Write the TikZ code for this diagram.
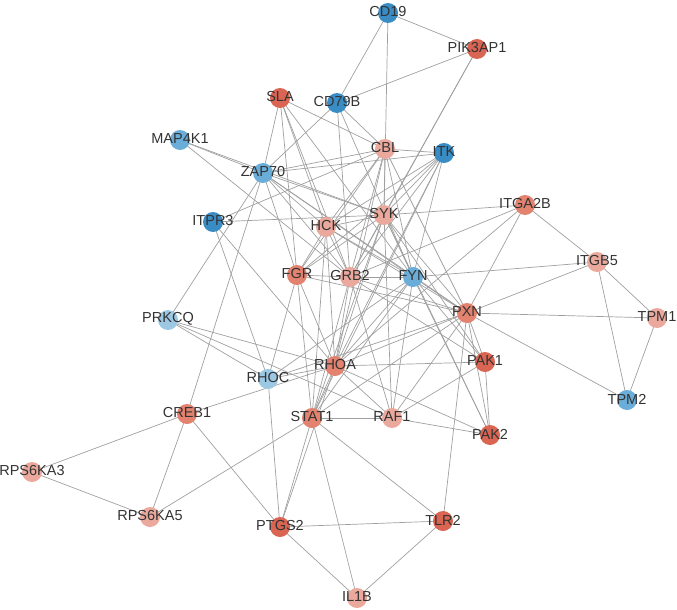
\documentclass[tikz,border=0pt]{standalone}
\usepackage{fontspec}
\setmainfont{Liberation Sans}
\usepackage{tikz}
\usetikzlibrary{backgrounds}
\definecolor{geneBlueA}{HTML}{3A8CC4}
\definecolor{geneBlueB}{HTML}{6AADD8}
\definecolor{geneBlueC}{HTML}{9DC8E4}
\definecolor{geneRedA}{HTML}{DB6553}
\definecolor{geneRedB}{HTML}{E2826F}
\definecolor{geneRedC}{HTML}{EBA99D}
\definecolor{linkGray}{HTML}{A0A0A0}
\definecolor{textGray}{HTML}{333333}

\begin{document}
\begin{tikzpicture}[x=1pt,y=-1pt,
  gene/.style={circle,inner sep=0pt,minimum size=20pt},
  geneText/.style={inner sep=0pt,text=textGray,font=\fontsize{14.5}{15}\selectfont},
  link/.style={draw=linkGray,line width=0.7pt}]
\useasboundingbox (0,0) rectangle (677,610);

\def\genes{
CD19/388/13/geneBlueA,
PIK3AP1/477/49/geneRedA,
SLA/280/98/geneRedA,
CD79B/337/103/geneBlueA,
MAP4K1/180/140/geneBlueB,
CBL/385/149/geneRedC,
ITK/444/153/geneBlueA,
ZAP70/263/173/geneBlueB,
ITPR3/213/222/geneBlueA,
SYK/384/215/geneRedC,
HCK/326/227/geneRedC,
ITGA2B/525/205/geneRedB,
ITGB5/597/262/geneRedC,
FGR/297/275/geneRedB,
GRB2/350/277/geneRedC,
FYN/413/277/geneBlueB,
PXN/467/313/geneRedB,
TPM1/657/318/geneRedC,
PRKCQ/168/320/geneBlueC,
RHOA/335/366/geneRedB,
PAK1/485/362/geneRedA,
RHOC/268/379/geneBlueC,
TPM2/627/400/geneBlueB,
CREB1/187/414/geneRedB,
STAT1/312/418/geneRedB,
RAF1/392/418/geneRedC,
PAK2/490/435/geneRedA,
RPS6KA3/32/472/geneRedC,
RPS6KA5/150/517/geneRedC,
PTGS2/280/527/geneRedA,
TLR2/443/521/geneRedA,
IL1B/357/598/geneRedC}

\def\links{
CD19/PIK3AP1, CD19/CD79B, CD19/SYK,
PIK3AP1/CD79B, PIK3AP1/SYK, PIK3AP1/GRB2,
SLA/ZAP70, SLA/CBL, SLA/FGR, SLA/HCK, SLA/GRB2, SLA/FYN,
CD79B/ZAP70, CD79B/CBL, CD79B/GRB2, CD79B/FYN,
MAP4K1/ZAP70, MAP4K1/SYK, MAP4K1/GRB2,
CBL/ZAP70, CBL/ITK, CBL/SYK, CBL/HCK, CBL/FGR, CBL/GRB2, CBL/FYN, CBL/PXN, CBL/RHOA,
ITK/ZAP70, ITK/SYK, ITK/HCK, ITK/FGR, ITK/GRB2, ITK/FYN, ITK/RHOA, ITK/STAT1,
ZAP70/SYK, ZAP70/HCK, ZAP70/FGR, ZAP70/GRB2, ZAP70/FYN, ZAP70/PXN, ZAP70/PRKCQ, ZAP70/CREB1,
ITPR3/SYK, ITPR3/CBL, ITPR3/RHOC, ITPR3/RHOA,
SYK/HCK, SYK/FGR, SYK/GRB2, SYK/FYN, SYK/ITGA2B, SYK/PXN, SYK/RHOA, SYK/STAT1, SYK/RAF1, SYK/PAK1, SYK/PAK2,
HCK/FGR, HCK/GRB2, HCK/FYN, HCK/PXN, HCK/RHOA, HCK/STAT1,
ITGA2B/ITGB5, ITGA2B/PXN, ITGA2B/GRB2, ITGA2B/RHOA,
ITGB5/FYN, ITGB5/PXN, ITGB5/TPM1, ITGB5/TPM2,
TPM1/PXN, TPM1/TPM2, TPM2/PXN,
FGR/GRB2, FGR/PXN, FGR/RHOA, FGR/STAT1, FGR/RHOC,
GRB2/FYN, GRB2/PXN, GRB2/RHOA, GRB2/STAT1, GRB2/RAF1, GRB2/PAK1,
FYN/PXN, FYN/RHOA, FYN/STAT1, FYN/RAF1, FYN/PAK1, FYN/PAK2, FYN/RHOC,
PXN/RHOA, PXN/RHOC, PXN/PAK1, PXN/PAK2, PXN/RAF1, PXN/STAT1, PXN/TLR2,
PRKCQ/RHOA, PRKCQ/RHOC, PRKCQ/RAF1,
RHOA/RHOC, RHOA/PAK1, RHOA/STAT1, RHOA/RAF1, RHOA/PAK2, RHOA/CREB1, RHOA/PTGS2,
RHOC/PTGS2,
CREB1/RPS6KA3, CREB1/RPS6KA5, CREB1/PTGS2,
STAT1/RAF1, STAT1/RPS6KA5, STAT1/PTGS2, STAT1/IL1B, STAT1/TLR2,
RAF1/PAK1, RAF1/PAK2, PAK1/PAK2,
PTGS2/TLR2, PTGS2/IL1B, TLR2/IL1B,
RPS6KA3/RPS6KA5}

% draw the genes
\foreach \name/\x/\y/\col in \genes
  \node[gene,fill=\col] (\name) at (\x,\y) {};

% draw the interactions behind the genes
\begin{scope}[on background layer]
\foreach \a/\b in \links
  \draw[link] (\a.center) -- (\b.center);
\end{scope}

% gene names on top
\foreach \name/\x/\y/\col in \genes
  \node[geneText] (\name-txt) at (\x,\y-1) {\name};

\end{tikzpicture}
\end{document}
